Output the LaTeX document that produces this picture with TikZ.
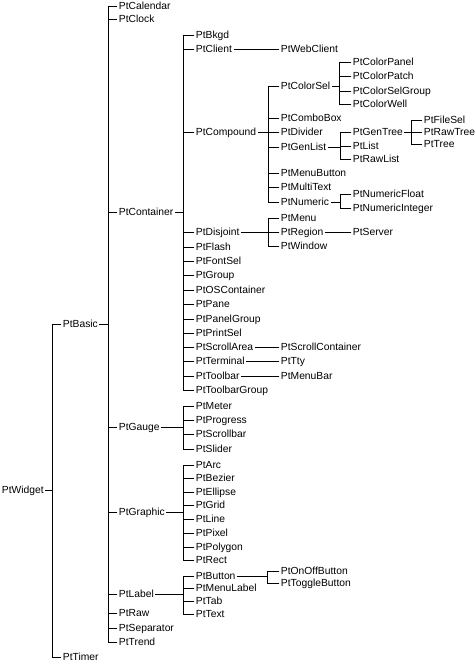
\documentclass[tikz,border=0pt]{standalone}
\usepackage{fontspec}
\setmainfont{Liberation Sans}
\usepackage{tikz}

\begin{document}
\begin{tikzpicture}[x=1bp,y=-1bp,line width=0.9bp,line cap=rect,
luokka/.style={anchor=west,inner xsep=1.5bp,inner ysep=0pt,text height=7.4bp,text depth=0pt,font=\fontsize{10.3bp}{12bp}\selectfont}]
\useasboundingbox (0,0) rectangle (476,663);
\newcommand\haara[5]{
\coordinate (h) at (#2,0);
\draw (#1.east) -- (#1.east -| h);
\draw (#3.west -| h) -- (#4.west -| h);
\foreach \c in {#5} \draw (\c.west) -- (\c.west -| h);
}
\foreach \n/\x/\y in {PtWidget/0/490,
PtBasic/61/324,PtTimer/61/657,
PtCalendar/117/6,PtClock/117/19,PtContainer/117/212,PtGauge/117/427,PtGraphic/117/512,PtLabel/117/594,PtRaw/117/613,PtSeparator/117/628,PtTrend/117/642,
PtBkgd/194/35,PtClient/194/49,PtCompound/194/132,PtDisjoint/194/232,PtFlash/194/247,PtFontSel/194/261,PtGroup/194/275,PtOSContainer/194/290,PtPane/194/304,PtPanelGroup/194/319,PtPrintSel/194/333,PtScrollArea/194/347,PtTerminal/194/361,PtToolbar/194/376,PtToolbarGroup/194/390,
PtMeter/194/406,PtProgress/194/420,PtScrollbar/194/434,PtSlider/194/449,
PtArc/194/465,PtBezier/194/478,PtEllipse/194/492,PtGrid/194/505,PtLine/194/519,PtPixel/194/533,PtPolygon/194/547,PtRect/194/560,
PtButton/194/576,PtMenuLabel/194/588,PtTab/194/601,PtText/194/614,
PtWebClient/279/49,PtColorSel/279/86,PtComboBox/279/118,PtDivider/279/132,PtGenList/279/147,PtMenuButton/279/173,PtMultiText/279/187,PtNumeric/279/202,
PtMenu/279/218,PtRegion/279/232,PtWindow/279/246,PtScrollContainer/279/347,PtTty/279/361,PtMenuBar/279/376,
PtOnOffButton/279/571,PtToggleButton/279/583,
PtColorPanel/351/62,PtColorPatch/351/76,PtColorSelGroup/351/91,PtColorWell/351/104,
PtGenTree/351/132,PtList/351/146,PtRawList/351/159,
PtNumericFloat/351/194,PtNumericInteger/351/208,PtServer/351/232,
PtFileSel/422/120,PtRawTree/422/132,PtTree/422/144}
\node[luokka] (\n) at (\x,\y) {\n};
\haara{PtWidget}{52}{PtBasic}{PtTimer}{PtBasic,PtTimer}
\haara{PtBasic}{108}{PtCalendar}{PtTrend}{PtCalendar,PtClock,PtContainer,PtGauge,PtGraphic,PtLabel,PtRaw,PtSeparator,PtTrend}
\haara{PtContainer}{183}{PtBkgd}{PtToolbarGroup}{PtBkgd,PtClient,PtCompound,PtDisjoint,PtFlash,PtFontSel,PtGroup,PtOSContainer,PtPane,PtPanelGroup,PtPrintSel,PtScrollArea,PtTerminal,PtToolbar,PtToolbarGroup}
\haara{PtGauge}{183}{PtMeter}{PtSlider}{PtMeter,PtProgress,PtScrollbar,PtSlider}
\haara{PtGraphic}{183}{PtArc}{PtRect}{PtArc,PtBezier,PtEllipse,PtGrid,PtLine,PtPixel,PtPolygon,PtRect}
\haara{PtLabel}{183}{PtButton}{PtText}{PtButton,PtMenuLabel,PtTab,PtText}
\haara{PtCompound}{268}{PtColorSel}{PtNumeric}{PtColorSel,PtComboBox,PtDivider,PtGenList,PtMenuButton,PtMultiText,PtNumeric}
\haara{PtDisjoint}{268}{PtMenu}{PtWindow}{PtMenu,PtRegion,PtWindow}
\haara{PtButton}{267}{PtOnOffButton}{PtToggleButton}{PtOnOffButton,PtToggleButton}
\haara{PtColorSel}{339}{PtColorPanel}{PtColorWell}{PtColorPanel,PtColorPatch,PtColorSelGroup,PtColorWell}
\haara{PtGenList}{340}{PtGenTree}{PtRawList}{PtGenTree,PtList,PtRawList}
\haara{PtNumeric}{340}{PtNumericFloat}{PtNumericInteger}{PtNumericFloat,PtNumericInteger}
\haara{PtGenTree}{411}{PtFileSel}{PtTree}{PtFileSel,PtRawTree,PtTree}
\draw (PtClient.east) -- (PtWebClient.west);
\draw (PtRegion.east) -- (PtServer.west);
\draw (PtScrollArea.east) -- (PtScrollContainer.west);
\draw (PtTerminal.east) -- (PtTty.west);
\draw (PtToolbar.east) -- (PtMenuBar.west);
\end{tikzpicture}
\end{document}
